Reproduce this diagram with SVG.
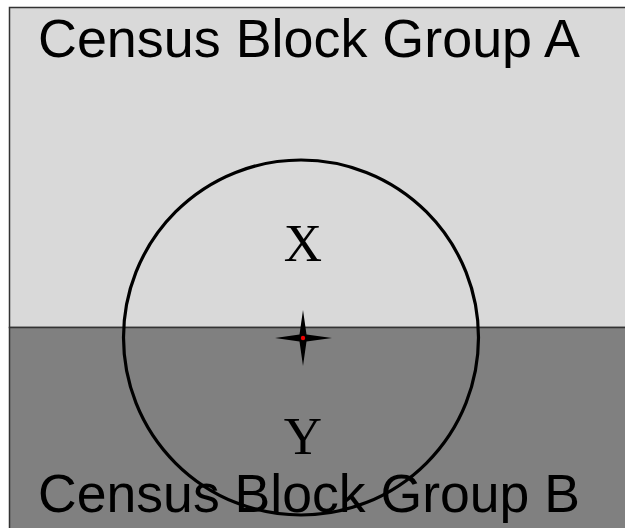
<svg xmlns="http://www.w3.org/2000/svg" width="625" height="528" viewBox="0 0 625 528">
<style>
.lbl{font-family:"Liberation Sans",Arial,sans-serif;font-size:53px;fill:#000}
.var{font-family:"Liberation Serif","Times New Roman",serif;font-size:53px;fill:#000;text-anchor:middle}
</style>
<rect width="625" height="528" fill="#fff"/>
<g id="blockA">
<rect x="9.5" y="7.5" width="620" height="320" fill="#d9d9d9" stroke="#333" stroke-width="1.5"/>
<text class="lbl" x="38" y="57" textLength="542" lengthAdjust="spacingAndGlyphs">Census Block Group A</text>
</g>
<g id="blockB">
<rect x="9.5" y="327.5" width="620" height="210" fill="#808080" stroke="#333" stroke-width="1.5"/>
</g>
<g id="buffer">
<circle cx="301" cy="337.5" r="177.5" fill="none" stroke="#000" stroke-width="3.2"/>
</g>
<text class="lbl" x="38" y="512" textLength="542" lengthAdjust="spacingAndGlyphs">Census Block Group B</text>
<g id="X"><text class="var" x="303" y="261">X</text></g>
<g id="Y"><text class="var" x="303" y="454">Y</text></g>
<g id="point">
<path d="M303 310 L306.5 334.5 L332 338 L306.5 341.5 L303 366 L299.5 341.5 L275 338 L299.5 334.5 Z" fill="#000"/>
<circle cx="303" cy="338" r="2.2" fill="#e00"/>
</g>
</svg>
